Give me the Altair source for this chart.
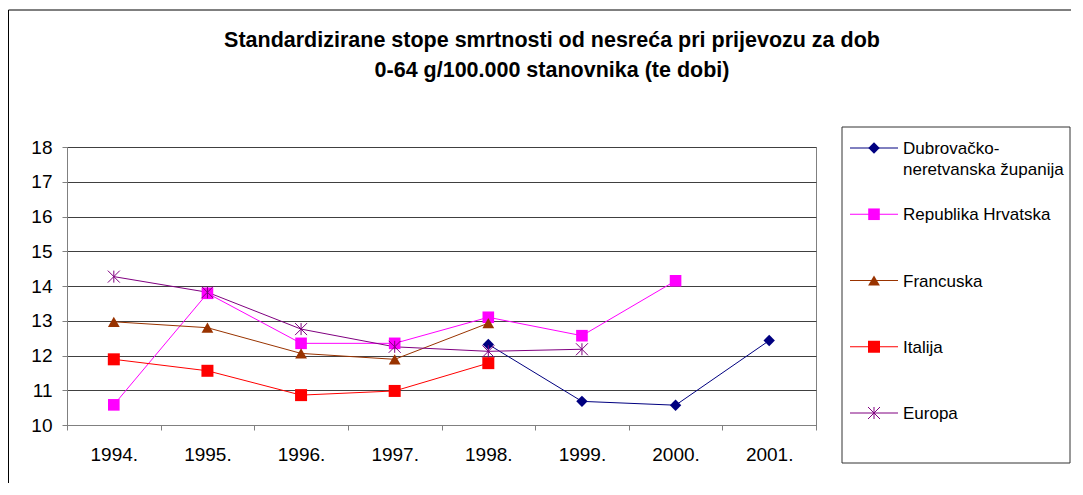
import altair as alt
import pandas as pd

years = ["1994.", "1995.", "1996.", "1997.", "1998.", "1999.", "2000.", "2001."]
series_names = ["Dubrovačko-neretvanska županija", "Republika Hrvatska", "Francuska", "Italija", "Europa"]
legend_labels = ["Dubrovačko-\nneretvanska županija", "Republika Hrvatska", "Francuska", "Italija", "Europa"]
title_lines = ["Standardizirane stope smrtnosti od nesreća pri prijevozu za dob",
               "0-64 g/100.000 stanovnika (te dobi)"]

dubrovnik = [None, None, None, None, 12.32, 10.68, 10.57, 12.43]
hrvatska = [10.58, 13.79, 12.35, 12.35, 13.10, 12.57, 14.15, None]
francuska = [12.97, 12.80, 12.06, 11.89, 12.93, None, None, None]
italija = [11.89, 11.56, 10.86, 10.98, 11.78, None, None, None]
europa = [14.27, 13.82, 12.76, 12.25, 12.12, 12.18, None, None]

colors = ["#000080", "#FF00FF", "#993300", "#FF0000", "#800080"]

rows = []
for name, vals in zip(series_names, [dubrovnik, hrvatska, francuska, italija, europa]):
    for y, v in zip(years, vals):
        if v is not None:
            rows.append({"series": name, "year": y, "value": v})
df = pd.DataFrame(rows)

FONT = "Liberation Sans"
ASTERISK = "M-1,-1L1,1M-1,1L1,-1M0,-1L0,1"

color_enc = alt.Color("series:N", scale=alt.Scale(domain=series_names, range=colors), legend=None)
shape_enc = alt.Shape("series:N", scale=alt.Scale(domain=series_names[:4],
                      range=["diamond", "square", "triangle-up", "square"]), legend=None)
size_enc = alt.Size("series:N", scale=alt.Scale(domain=series_names[:4], range=[130, 144, 150, 144]), legend=None)

x_enc = alt.X("year:O", sort=years,
              scale=alt.Scale(type="band", paddingInner=0, paddingOuter=0),
              axis=alt.Axis(title=None, labelAngle=0, tickBand="extent", labelPadding=15,
                            grid=False))
y_enc = alt.Y("value:Q", scale=alt.Scale(domain=[10, 18], nice=False, zero=False),
              axis=alt.Axis(title=None, values=list(range(10, 19)), grid=True,
                            gridColor="#404040", labelPadding=10))

base = alt.Chart(df)
lines = base.mark_line(strokeWidth=1).encode(x=x_enc, y=y_enc, color=color_enc)
pts = base.transform_filter(alt.datum.series != "Europa").mark_point(
    filled=True, opacity=1).encode(x=x_enc, y=y_enc, color=color_enc, shape=shape_enc, size=size_enc)
pts_eu = base.transform_filter(alt.datum.series == "Europa").mark_point(
    filled=False, opacity=1, shape=ASTERISK, size=144, strokeWidth=1, color=colors[4]).encode(
    x=x_enc, y=y_enc)
main = alt.layer(lines, pts, pts_eu)

# Legend
legend_df = pd.DataFrame({"series": series_names, "label": legend_labels})
ly = alt.Y("series:N", sort=series_names,
           scale=alt.Scale(type="point", range=[1, 266], padding=0), axis=None)
lbase = alt.Chart(legend_df)
one = alt.Chart(pd.DataFrame({"a": [0]}))
lbox = one.mark_rect(fillOpacity=0, stroke="#333333", strokeWidth=1).encode(
    x=alt.value(775), x2=alt.value(1003), y=alt.value(-20), y2=alt.value(316))
lrule = lbase.mark_rule(strokeWidth=1).encode(x=alt.value(783), x2=alt.value(831), y=ly, color=color_enc)
lpts = lbase.transform_filter(alt.datum.series != "Europa").mark_point(filled=True, opacity=1).encode(
    x=alt.value(807), y=ly, color=color_enc, shape=shape_enc, size=size_enc)
lpts_eu = lbase.transform_filter(alt.datum.series == "Europa").mark_point(
    filled=False, opacity=1, shape=ASTERISK, size=144, strokeWidth=1, color=colors[4]).encode(
    x=alt.value(807), y=ly)
ltext = lbase.mark_text(align="left", baseline="alphabetic", dy=6, lineBreak="\n", lineHeight=21,
                        fontSize=17, font=FONT, color="black").encode(
    x=alt.value(836), y=ly, text="label:N")
legend = alt.layer(lbox, lrule, lpts, lpts_eu, ltext)

border = one.mark_rect(fillOpacity=0, stroke="#000000", strokeWidth=1).encode(
    x=alt.value(-58.5), x2=alt.value(1100), y=alt.value(-137), y2=alt.value(600))
title = alt.Chart(pd.DataFrame({"t": ["\n".join(title_lines)]})).mark_text(
    align="center", baseline="alphabetic", lineBreak="\n", lineHeight=30, fontSize=21.5,
    fontWeight="bold", font=FONT, color="black").encode(
    x=alt.value(485), y=alt.value(-100), text="t:N")

chart = alt.layer(border, title, main, legend).resolve_scale(y="independent").properties(
    width=749, height=278,
    autosize=alt.AutoSizeParams(type="none"),
    padding={"left": 59, "top": 139, "right": 255, "bottom": 58},
    background="white",
).configure_view(stroke="#808080").configure_axis(
    domainColor="#808080", tickColor="#808080", tickSize=5, labelFont=FONT,
    labelFontSize=19, labelColor="black")

chart.save("out.html", embed_options={"renderer": "svg", "actions": False})
